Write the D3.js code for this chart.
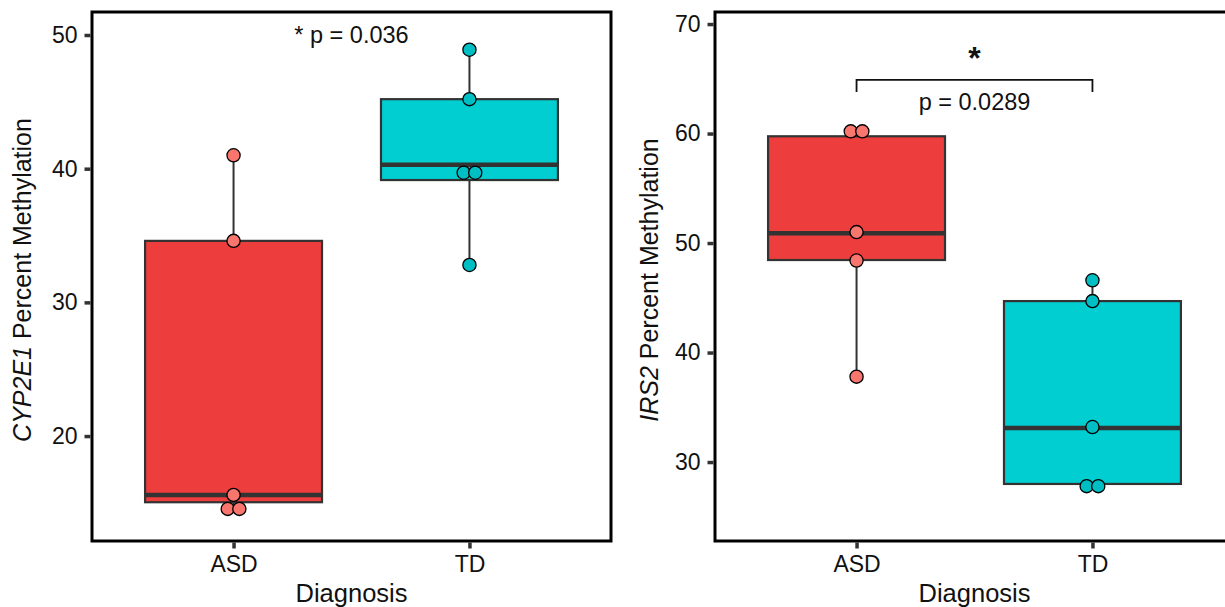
<!DOCTYPE html>
<html><head><meta charset="utf-8">
<script src="https://cdn.jsdelivr.net/npm/d3@7"></script>
<style>body{margin:0;background:#fff}svg{display:block;font-family:"Liberation Sans",Arial,sans-serif}</style>
</head><body><svg id="c" width="1225" height="607"></svg>
<script>
const categories = ["ASD", "TD"];
// Panel A: CYP2E1
const cypTicks = [20, 30, 40, 50];
const cypLimits = [12.15, 51.72];
const cypQ1 = [15.05, 39.15];
const cypMedian = [15.6, 40.3];
const cypQ3 = [34.6, 45.2];
const cypWhiskLow = [14.55, 32.8];
const cypWhiskHigh = [41.0, 48.9];
const cypASD = [41.0, 34.6, 15.6, 14.55, 14.55];
const cypTD = [48.9, 45.2, 39.7, 39.7, 32.8];
// Panel B: IRS2
const irsTicks = [30, 40, 50, 60, 70];
const irsLimits = [22.79, 71.1];
const irsQ1 = [48.45, 28.0];
const irsMedian = [50.9, 33.1];
const irsQ3 = [59.75, 44.7];
const irsWhiskLow = [37.8, 27.7];
const irsWhiskHigh = [60.2, 46.6];
const irsASD = [60.2, 60.2, 51.0, 48.4, 37.8];
const irsTD = [46.6, 44.7, 33.2, 27.8, 27.8];

const boxFill = ["#EE3D3D", "#00CED1"];
const ptFill = ["#F8766D", "#00BFC4"];
const dark = "#333333";
const svg = d3.select("#c");

function panel(o) {
  const g = svg.append("g");
  const x = d3.scalePoint().domain(categories).range([o.left, o.left + 519]).padding(0.6);
  const y = d3.scaleLinear().domain(o.limits).range([541, 12]);
  const bw = x.step() * 0.75;
  categories.forEach((c, i) => {
    g.append("line").attr("x1", x(c)).attr("x2", x(c))
      .attr("y1", y(o.q3[i])).attr("y2", y(o.hi[i])).attr("stroke", dark).attr("stroke-width", 2);
    g.append("line").attr("x1", x(c)).attr("x2", x(c))
      .attr("y1", y(o.q1[i])).attr("y2", y(o.lo[i])).attr("stroke", dark).attr("stroke-width", 2);
    g.append("rect").attr("x", x(c) - bw / 2).attr("width", bw)
      .attr("y", y(o.q3[i])).attr("height", y(o.q1[i]) - y(o.q3[i]))
      .attr("fill", boxFill[i]).attr("stroke", dark).attr("stroke-width", 2.2);
    g.append("line").attr("x1", x(c) - bw / 2).attr("x2", x(c) + bw / 2)
      .attr("y1", y(o.med[i])).attr("y2", y(o.med[i])).attr("stroke", dark).attr("stroke-width", 4.5);
  });
  o.pts.forEach((arr, i) => {
    const counts = d3.rollup(arr, v => v.length, d => d);
    const seen = new Map();
    arr.forEach(v => {
      const n = counts.get(v), k = seen.get(v) || 0; seen.set(v, k + 1);
      const dx = (k - (n - 1) / 2) * 11.6;
      g.append("circle").attr("cx", x(categories[i]) + dx).attr("cy", y(v)).attr("r", 6.6)
        .attr("fill", ptFill[i]).attr("stroke", "#000").attr("stroke-width", 1.3);
    });
  });
  g.append("rect").attr("x", o.left).attr("y", 12).attr("width", 519).attr("height", 529)
    .attr("fill", "none").attr("stroke", "#000").attr("stroke-width", 3);
  const ya = g.append("g").attr("transform", `translate(${o.left - 1.5},0)`)
    .call(d3.axisLeft(y).tickValues(o.ticks).tickSize(6).tickPadding(7).tickFormat(d3.format("d")));
  ya.select(".domain").remove();
  ya.selectAll("line").attr("stroke", dark).attr("stroke-width", 3.5);
  ya.selectAll("text").attr("font-size", 23).attr("fill", "#111").attr("font-family", "Liberation Sans, Arial, sans-serif");
  const xa = g.append("g").attr("transform", `translate(0,${541 + 1.5})`)
    .call(d3.axisBottom(x).tickSize(6).tickPadding(6));
  xa.select(".domain").remove();
  xa.selectAll("line").attr("stroke", dark).attr("stroke-width", 3.5);
  xa.selectAll("text").attr("font-size", 23).attr("fill", "#111").attr("dy", null)
    .attr("y", 29).attr("font-family", "Liberation Sans, Arial, sans-serif");
  g.append("text").attr("x", o.left + 259.5).attr("y", 602).attr("text-anchor", "middle")
    .attr("font-size", 25.5).attr("fill", "#111").text("Diagnosis");
  const t = g.append("text").attr("transform", `translate(${o.titleX},280) rotate(-90)`)
    .attr("text-anchor", "middle").attr("font-size", 25).attr("fill", "#111");
  t.append("tspan").attr("font-style", "italic").text(o.gene);
  t.append("tspan").text(" Percent Methylation");
  return {x, y, g};
}

const A = panel({left: 92, limits: cypLimits, ticks: cypTicks, q1: cypQ1, med: cypMedian, q3: cypQ3,
  lo: cypWhiskLow, hi: cypWhiskHigh, pts: [cypASD, cypTD], gene: "CYP2E1", titleX: 31});
A.g.append("text").attr("x", (A.x("ASD") + A.x("TD")) / 2).attr("y", A.y(50)).attr("dy", "0.36em")
  .attr("text-anchor", "middle").attr("font-size", 23.5).attr("fill", "#111").text("* p = 0.036");

const B = panel({left: 715, limits: irsLimits, ticks: irsTicks, q1: irsQ1, med: irsMedian, q3: irsQ3,
  lo: irsWhiskLow, hi: irsWhiskHigh, pts: [irsASD, irsTD], gene: "IRS2", titleX: 658});
const bx1 = B.x("ASD"), bx2 = B.x("TD"), by = B.y(64.9), by2 = B.y(63.8);
B.g.append("path").attr("d", `M${bx1},${by2}V${by}H${bx2}V${by2}`).attr("fill", "none")
  .attr("stroke", "#111").attr("stroke-width", 1.8);
B.g.append("text").attr("x", (bx1 + bx2) / 2).attr("y", 69).attr("text-anchor", "middle")
  .attr("font-size", 32).attr("font-weight", "bold").attr("fill", "#111").text("*");
B.g.append("text").attr("x", (bx1 + bx2) / 2).attr("y", 110).attr("text-anchor", "middle")
  .attr("font-size", 23.5).attr("fill", "#111").text("p = 0.0289");
</script></body></html>
